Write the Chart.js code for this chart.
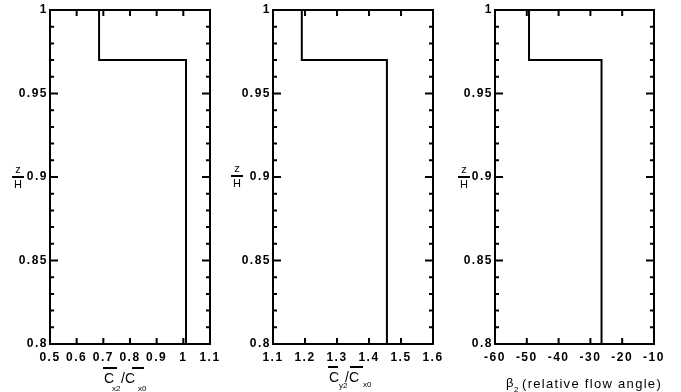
<!DOCTYPE html>
<html>
<head>
<meta charset="utf-8">
<script src="https://cdn.jsdelivr.net/npm/chart.js@4.4.1/dist/chart.umd.min.js"></script>
<style>
  body { margin: 0; background: #fff; overflow: hidden; }
  #wrap { position: relative; width: 681px; height: 392px; font-family: "Liberation Sans", Arial, sans-serif; color: #000; }
  canvas { position: absolute; top: 0; }
  .t { position: absolute; line-height: 1; white-space: nowrap; }
  .big { font-size: 14px; }
  .sub { font-size: 8px; }
  .bar { position: absolute; height: 2px; background: #000; }
  .frac { position: absolute; width: 12px; font-size: 11px; line-height: 1; text-align: center; }
  .frac .ln { height: 1.5px; background: #000; margin: 1px 0; }
</style>
</head>
<body>
<div id="wrap">
  <canvas id="c1" width="227" height="392" style="left:0px"></canvas>
  <canvas id="c2" width="227" height="392" style="left:227px"></canvas>
  <canvas id="c3" width="227" height="392" style="left:454px"></canvas>

  <div class="frac" style="left:12px;top:164px">z<div class="ln"></div>H</div>
  <div class="frac" style="left:231px;top:163px">z<div class="ln"></div>H</div>
  <div class="frac" style="left:458px;top:164px">z<div class="ln"></div>H</div>

  <!-- C_x2 / C_x0 -->
  <div class="bar" style="left:103px;top:367px;width:14px"></div>
  <div class="t big" style="left:104px;top:371px">C</div>
  <div class="t sub" style="left:112px;top:385px">x2</div>
  <div class="t big" style="left:121px;top:371px">/C</div>
  <div class="bar" style="left:132px;top:367px;width:12px"></div>
  <div class="t sub" style="left:138px;top:385px">x0</div>

  <!-- C_y2 / C_x0 -->
  <div class="bar" style="left:328px;top:366px;width:10px"></div>
  <div class="t big" style="left:329px;top:370px">C</div>
  <div class="t sub" style="left:339px;top:382px">y2</div>
  <div class="t big" style="left:345px;top:370px">/C</div>
  <div class="bar" style="left:350px;top:366px;width:13px"></div>
  <div class="t sub" style="left:363px;top:381px">x0</div>

  <!-- beta_2 -->
  <div class="t" style="left:506px;top:376px;font-size:13px">β</div>
  <div class="t sub" style="left:514px;top:386px">2</div>
  <div class="t" style="left:522px;top:377px;font-size:13px;letter-spacing:1.3px">(relative flow angle)</div>
</div>
<script>
// z/H levels of the step profile (same for all three panels)
const zLevels = [1.0, 0.97, 0.97, 0.8];
const cx2 = [0.684, 0.684, 1.01, 1.01];
const cy2 = [1.19, 1.19, 1.456, 1.456];
const beta2 = [-49.3, -49.3, -26.5, -26.5];

const ticksCx = [0.5, 0.6, 0.7, 0.8, 0.9, 1, 1.1];
const ticksCy = [1.1, 1.2, 1.3, 1.4, 1.5, 1.6];
const ticksBeta = [-60, -50, -40, -30, -20, -10];
const yLabels = [0.8, 0.85, 0.9, 0.95, 1];

const tickFont = { family: "Liberation Sans", size: 12, weight: "bold" };

// frame + inward ticks on all four sides
const frameTicks = {
  id: "frameTicks",
  beforeDraw(chart) {
    chart.ctx.letterSpacing = "1.5px";
  },
  afterDraw(chart) {
    const { ctx, chartArea: a, scales } = chart;
    ctx.save();
    ctx.strokeStyle = "#000";
    ctx.lineWidth = 2;
    ctx.strokeRect(a.left, a.top, a.right - a.left, a.bottom - a.top);
    ctx.beginPath();
    scales.y.ticks.forEach(t => {
      const py = scales.y.getPixelForValue(t.value);
      const major = yLabels.some(v => Math.abs(v - t.value) < 1e-6);
      const len = major ? 8 : 4;
      ctx.moveTo(a.left, py); ctx.lineTo(a.left + len, py);
      ctx.moveTo(a.right, py); ctx.lineTo(a.right - len, py);
    });
    scales.x.ticks.forEach(t => {
      const px = scales.x.getPixelForValue(t.value);
      ctx.moveTo(px, a.bottom); ctx.lineTo(px, a.bottom - 6);
      ctx.moveTo(px, a.top); ctx.lineTo(px, a.top + 6);
    });
    ctx.stroke();
    ctx.restore();
  }
};

function makePanel(id, xs, xTicks, yWidth, padRight) {
  const pts = xs.map((x, i) => ({ x: x, y: zLevels[i] }));
  return new Chart(document.getElementById(id), {
    type: "line",
    data: {
      datasets: [{
        data: pts,
        borderColor: "#000",
        borderWidth: 2,
        pointRadius: 0,
        tension: 0,
        fill: false
      }]
    },
    options: {
      responsive: false,
      animation: false,
      devicePixelRatio: 1,
      layout: { padding: { top: 10, bottom: 18, left: 0, right: padRight } },
      plugins: { legend: { display: false }, tooltip: { enabled: false } },
      scales: {
        x: {
          type: "linear",
          min: xTicks[0],
          max: xTicks[xTicks.length - 1],
          afterFit: s => { s.height = 30; },
          afterBuildTicks: s => { s.ticks = xTicks.map(v => ({ value: v })); },
          grid: { display: false, drawTicks: false },
          border: { display: false },
          ticks: { color: "#000", font: tickFont, padding: 6, autoSkip: false, maxRotation: 0,
                    callback: v => String(Math.round(v * 100) / 100) }
        },
        y: {
          type: "linear",
          min: 0.8,
          max: 1,
          afterFit: s => { s.width = yWidth; },
          grid: { display: false, drawTicks: false },
          border: { display: false },
          ticks: {
            stepSize: 0.01, autoSkip: false, color: "#000", font: tickFont, padding: 2,
            callback: v => yLabels.some(l => Math.abs(l - v) < 1e-6) ? String(Math.round(v * 100) / 100) : ""
          }
        }
      }
    },
    plugins: [frameTicks]
  });
}

makePanel("c1", cx2, ticksCx, 50, 17);
makePanel("c2", cy2, ticksCy, 46, 21);
makePanel("c3", beta2, ticksBeta, 41, 27);
</script>
</body>
</html>
